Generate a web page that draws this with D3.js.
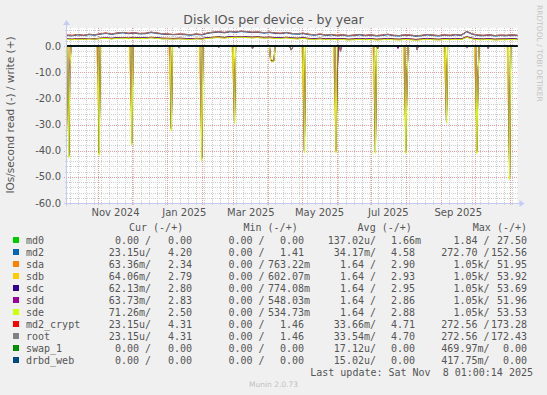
<!DOCTYPE html>
<html><head><meta charset="utf-8">
<script src="https://cdn.jsdelivr.net/npm/d3@7"></script>
<style>
html,body{margin:0;padding:0;background:#f0f0f0;}
svg{display:block;}
</style></head><body>
<svg id="chart" width="547" height="395"></svg>
<script>
// ---------------- DATA ----------------
const startTime = Date.UTC(2024, 9, 4, 1, 0, 14);
const endTime = Date.UTC(2025, 10, 8, 1, 0, 14);

const seriesNames = ["md0","md2","sda","sdb","sdc","sdd","sde","md2_crypt","root","swap_1","drbd_web"];

// write values (IOs/s), one value every 5 days from the start of the graph
const writeDays = [0,5,10,15,20,25,30,35,40,45,50,55,60,65,70,75,80,85,90,95,100,105,110,115,120,125,130,135,140,145,150,155,160,165,170,175,180,185,190,195,200,205,210,215,220,225,230,235,240,245,250,255,260,265,270,275,280,285,290,295,300,305,310,315,320,325,330,335,340,345,350,355,360,365,370,375,380,385,390,395,400];

const md0Write = [0,0,0,0,0,0,0,0,0,0,0,0,0,0,0,0,0,0,0,0,0,0,0,0,0,0,0,0,0,0,0,0,0,0,0,0,0,0,0,0,0,0,0,0,0,0,0,0,0,0,0,0,0,0,0,0,0,0,0,0,0,0,0,0,0,0,0,0,0,0,0,0,0,0,0,0,0,0,0,0,0];
const md2Write = [4.0,3.9,4.2,4.0,4.3,4.1, 4.5,4.8,4.4,4.8,5.0,4.7, 4.9,4.6,4.7,5.1,4.8,4.5,4.4, 4.3,4.4,4.3,4.1,4.4,4.2, 4.8,5.1,5.3,5.0,5.4,5.2,5.5,5.3,5.1,5.2, 4.9,5.1,4.8,4.7,5.0,4.6,4.5,4.7, 4.3,4.1,4.4,4.0,4.2,3.9,4.1,3.8,4.0,4.2, 3.9,4.1,3.8,4.0,4.3,3.9,3.8,4.1,4.0,3.7,3.9,4.2,4.0,3.8, 4.1,3.9,4.2,4.0,5.4,4.4,4.0, 3.9,4.1,3.8,4.0,3.9,4.1,3.9];
const sdaWrite = [2.7,2.5,2.9,2.6,2.9,2.7, 3.0,3.1,2.8,3.2,3.2,3.1, 3.3,3.0,3.2,3.3,3.0,2.9,3.0, 2.8,3.0,2.8,2.8,2.9,2.7, 3.2,3.3,3.5,3.2,3.5,3.3,3.6,3.5,3.3,3.4, 3.2,3.4,3.1,3.0,3.3,3.1,2.9,3.0, 2.8,2.8,2.9,2.7,2.8,2.6,2.8,2.5,2.7,2.8, 2.6,2.8,2.5,2.7,2.8,2.6,2.6,2.7,2.7,2.5,2.6,2.9,2.6,2.5, 2.8,2.6,2.8,2.7,3.6,2.9,2.7, 2.6,2.8,2.5,2.7,2.6,2.7,2.6];
const sdbWrite = [2.6,2.6,2.8,2.7,2.8,2.8, 2.9,3.2,2.9,3.1,3.3,3.0, 3.2,3.1,3.1,3.4,3.1,3.0,2.9, 2.9,2.9,2.9,2.7,3.0,2.8, 3.1,3.4,3.4,3.3,3.5,3.5,3.6,3.4,3.4,3.5, 3.3,3.3,3.2,3.1,3.4,3.0,3.0,3.1, 2.9,2.7,3.0,2.6,2.9,2.7,2.7,2.6,2.6,2.9, 2.7,2.7,2.6,2.6,2.9,2.7,2.5,2.8,2.6,2.5,2.7,2.8,2.7,2.6, 2.7,2.7,2.9,2.6,3.4,3.0,2.6, 2.7,2.7,2.6,2.6,2.7,2.8,2.6];
const sdcWrite = [2.7,2.6,2.8,2.7,2.9,2.8, 3.0,3.1,3.0,3.2,3.2,3.0, 3.3,3.1,3.2,3.3,3.2,3.0,2.9, 2.9,3.0,2.9,2.8,2.9,2.9, 3.2,3.3,3.5,3.3,3.6,3.4,3.6,3.5,3.4,3.5, 3.3,3.4,3.2,3.2,3.3,3.1,3.0,3.2, 2.9,2.8,3.0,2.7,2.9,2.7,2.8,2.6,2.7,2.9, 2.7,2.8,2.6,2.7,2.9,2.7,2.6,2.8,2.7,2.5,2.7,2.9,2.7,2.6, 2.8,2.7,2.9,2.7,3.5,3.0,2.7, 2.7,2.8,2.6,2.7,2.7,2.8,2.7];
const sddWrite = [2.6,2.5,2.7,2.6,2.8,2.6, 2.9,3.0,2.8,3.0,3.1,2.9, 3.1,2.9,3.0,3.2,3.0,2.8,2.8, 2.7,2.8,2.7,2.6,2.8,2.7, 3.0,3.2,3.3,3.1,3.4,3.3,3.5,3.3,3.2,3.3, 3.1,3.2,3.0,3.0,3.2,2.9,2.8,3.0, 2.7,2.6,2.8,2.5,2.7,2.5,2.6,2.4,2.5,2.7, 2.5,2.6,2.4,2.5,2.7,2.5,2.4,2.6,2.5,2.3,2.5,2.7,2.5,2.4, 2.6,2.5,2.7,2.5,3.4,2.8,2.5, 2.5,2.6,2.4,2.5,2.5,2.6,2.5];
const sdeWrite = [2.5,2.4,2.6,2.5,2.7,2.6, 2.8,2.9,2.7,2.9,3.0,2.8, 3.0,2.8,2.9,3.1,2.9,2.7,2.7, 2.6,2.7,2.6,2.5,2.7,2.6, 2.9,3.1,3.2,3.0,3.3,3.2,3.4,3.2,3.1,3.2, 3.0,3.1,2.9,2.9,3.1,2.8,2.7,2.9, 2.6,2.5,2.7,2.4,2.6,2.4,2.5,2.3,2.4,2.6, 2.4,2.5,2.3,2.4,2.6,2.4,2.3,2.5,2.4,2.2,2.4,2.6,2.4,2.3, 2.5,2.4,2.6,2.4,3.3,2.7,2.4, 2.4,2.5,2.3,2.4,2.4,2.5,2.4];
const md2cryptWrite = [4.2,4.1,4.4,4.1,4.5,4.3, 4.7,5.0,4.6,5.0,5.2,4.9, 5.1,4.8,4.9,5.3,5.0,4.7,4.6, 4.4,4.6,4.5,4.3,4.6,4.4, 5.0,5.3,5.5,5.2,5.6,5.4,5.7,5.5,5.3,5.4, 5.1,5.3,5.0,4.9,5.2,4.8,4.7,4.9, 4.5,4.3,4.6,4.2,4.4,4.1,4.3,4.0,4.2,4.4, 4.1,4.3,4.0,4.2,4.5,4.1,4.0,4.3,4.2,3.9,4.1,4.4,4.2,4.0, 4.3,4.1,4.4,4.2,5.6,4.6,4.2, 4.1,4.3,4.0,4.2,4.1,4.3,4.1];
const rootWrite = [4.2,4.0,4.4,4.1,4.5,4.3, 4.7,4.9,4.6,5.0,5.2,4.9, 5.1,4.8,4.9,5.3,5.0,4.7,4.6, 4.4,4.6,4.5,4.3,4.6,4.4, 5.0,5.3,5.5,5.2,5.6,5.4,5.7,5.5,5.3,5.4, 5.1,5.3,5.0,4.9,5.2,4.8,4.7,4.9, 4.5,4.3,4.6,4.2,4.4,4.1,4.3,4.0,4.2,4.4, 4.1,4.3,4.0,4.2,4.5,4.1,4.0,4.3,4.2,3.9,4.1,4.4,4.2,4.0, 4.3,4.1,4.4,4.2,5.6,4.6,4.2, 4.1,4.3,4.0,4.2,4.1,4.3,4.1];
const swap1Write = [0,0,0,0,0,0,0,0,0,0,0,0,0,0,0,0,0,0,0,0,0,0,0,0,0,0,0,0,0,0,0,0,0,0,0,0,0,0,0,0,0,0,0,0,0,0,0,0,0,0,0,0,0,0,0,0,0,0,0,0,0,0,0,0,0,0,0,0,0,0,0,0,0,0,0,0,0,0,0,0,0];
const drbdWebWrite = [0,0,0,0,0,0,0,0,0,0,0,0,0,0,0,0,0,0,0,0,0,0,0,0,0,0,0,0,0,0,0,0,0,0,0,0,0,0,0,0,0,0,0,0,0,0,0,0,0,0,0,0,0,0,0,0,0,0,0,0,0,0,0,0,0,0,0,0,0,0,0,0,0,0,0,0,0,0,0,0,0];

// read values (IOs/s): [day from start, value]; every other day reads 0
const md0Read = [];
const md2Read = [[100,0.7],[135,0.5],[165,0.9],[199,1.4],[200,1.1],[243,1.9],[276,0.9],[311,1.4],[355,0.7],[374,0.9]];
const sdaRead = [[1,18],[2,39],[28,17],[29,38],[57,16],[58,35],[92,14],[93,30],[119,19],[120,41],[148,13],[149,27],[181,4.8],[182,5.4],[183,5.5],[184,5.2],[210,18],[211,38],[238,19],[239,38],[240,13],[273,19],[274,38],[300,18],[301,38],[302,12],[336,13],[337,27],[363,19],[364,38],[365,12],[392,24],[393,47]];
const sdbRead = [[1,20],[2,40],[28,18],[29,39],[57,17],[58,36],[92,15],[93,31],[119,20],[120,42],[148,14],[149,28],[181,5],[182,5.6],[183,5.7],[184,5.4],[210,19],[211,39],[238,20],[239,39],[240,12],[273,20],[274,39],[300,19],[301,39],[302,12],[336,14],[337,28],[363,20],[364,39],[365,11],[392,25],[393,48]];
const sdcRead = [[2,41.5],[3,9],[29,40.5],[58,36.8],[93,31.5],[120,42.5],[149,28.5],[181,5.3],[182,5.8],[183,5.8],[184,5.6],[211,39.8],[239,39.8],[240,12],[274,40],[301,40],[302,12],[337,28.5],[364,40],[365,11],[393,49.5]];
const sddRead = [[2,42],[3,9.5],[29,41],[58,37.2],[93,31.8],[120,43],[149,29],[181,5.4],[182,5.9],[183,5.9],[184,5.7],[211,40.2],[239,40.2],[240,12.5],[274,40.4],[294,1],[301,40.4],[302,12.5],[337,29],[364,40.4],[365,11.5],[393,50]];
const sdeRead = [[2,42.7],[3,10],[29,41.7],[58,37.8],[93,32.4],[120,43.8],[149,29.5],[181,5.5],[182,6],[183,6],[184,5.8],[211,40.8],[239,40.8],[274,41],[301,41],[302,13],[337,29.5],[364,41],[365,12],[393,51]];
const md2cryptRead = [[100,0.8],[135,0.6],[165,1.0],[199,1.5],[200,1.2],[243,2.0],[276,1.0],[311,1.5],[355,0.8],[374,1.0]];
const rootRead = [[100,0.8],[135,0.6],[165,1.0],[199,1.5],[200,1.2],[243,2.0],[276,1.0],[311,1.5],[355,0.8],[374,1.0]];
const swap1Read = [];
const drbdWebRead = [];

// legend statistics (read / write)
const curRead  = ["0.00","23.15u","63.36m","64.06m","62.13m","63.73m","71.26m","23.15u","23.15u","0.00","0.00"];
const curWrite = ["0.00","4.20","2.34","2.79","2.80","2.83","2.50","4.31","4.31","0.00","0.00"];
const minRead  = ["0.00","0.00","0.00","0.00","0.00","0.00","0.00","0.00","0.00","0.00","0.00"];
const minWrite = ["0.00","1.41","763.22m","602.07m","774.08m","548.03m","534.73m","1.46","1.46","0.00","0.00"];
const avgRead  = ["137.02u","34.17m","1.64","1.64","1.64","1.64","1.64","33.66m","33.54m","17.12u","15.02u"];
const avgWrite = ["1.66m","4.58","2.90","2.93","2.95","2.86","2.88","4.71","4.70","0.00","0.00"];
const maxRead  = ["1.84","272.70","1.05k","1.05k","1.05k","1.05k","1.05k","272.56","272.56","469.97m","417.75m"];
const maxWrite = ["27.50","152.56","51.95","53.92","53.69","51.96","53.53","173.28","172.43","0.00","0.00"];

const yTickValues = [0,-10,-20,-30,-40,-50,-60];
const yTickLabels = ["0.0","-10.0","-20.0","-30.0","-40.0","-50.0","-60.0"];
const xTickLabels = ["Nov 2024","Jan 2025","Mar 2025","May 2025","Jul 2025","Sep 2025"];
const xTickDates = [Date.UTC(2024,10,1),Date.UTC(2025,0,1),Date.UTC(2025,2,1),Date.UTC(2025,4,1),Date.UTC(2025,6,1),Date.UTC(2025,8,1)];
const legendHeaders = ["Cur (-/+)","Min (-/+)","Avg (-/+)","Max (-/+)"];

// ---------------- STYLE ----------------
const seriesColors = ["#00CC00","#0066B3","#FF8000","#FFCC00","#330099","#990099","#CCFF00","#FF0000","#808080","#008F00","#00487D"];
const writeData = [md0Write,md2Write,sdaWrite,sdbWrite,sdcWrite,sddWrite,sdeWrite,md2cryptWrite,rootWrite,swap1Write,drbdWebWrite];
const readData = [md0Read,md2Read,sdaRead,sdbRead,sdcRead,sddRead,sdeRead,md2cryptRead,rootRead,swap1Read,drbdWebRead];

const svg = d3.select("#chart");
const W = 547, H = 395;
const plotLeft = 66.5, plotRight = 517.5, plotTop = 28, plotBottom = 203;
const DAY = 86400000;
const x = d3.scaleUtc().domain([new Date(startTime), new Date(endTime)]).range([plotLeft, plotRight]);
const y = d3.scaleLinear().domain([-60, 6.88]).range([plotBottom, plotTop]);
const dayX = d => x(new Date(startTime + d * DAY));

const FONT = "'DejaVu Sans', sans-serif";
const MONO = "'DejaVu Sans Mono', monospace";
const textCol = "#555555";

svg.append("rect").attr("width", W).attr("height", H).attr("fill", "#f0f0f0");
svg.append("rect").attr("x", plotLeft).attr("y", plotTop).attr("width", plotRight - plotLeft).attr("height", plotBottom - plotTop).attr("fill", "#ffffff");

// grid
const grid = svg.append("g").attr("shape-rendering", "crispEdges");
const minorCol = "#d0d0d0", majorCol = "#eba0a0";
d3.range(-60, 6.88, 2).forEach(v => {
  if (v % 10 === 0) return;
  grid.append("line").attr("x1", plotLeft - 2).attr("x2", plotRight).attr("y1", Math.round(y(v)) + 0.5).attr("y2", Math.round(y(v)) + 0.5)
    .attr("stroke", minorCol).attr("stroke-dasharray", "1,1");
});
d3.utcMonday.range(new Date(startTime), new Date(endTime)).forEach(d => {
  const xx = Math.round(x(d)) + 0.5;
  grid.append("line").attr("x1", xx).attr("x2", xx).attr("y1", plotTop).attr("y2", plotBottom + 2)
    .attr("stroke", minorCol).attr("stroke-dasharray", "1,1");
});
d3.utcMonth.range(new Date(startTime), new Date(endTime)).forEach(d => {
  const xx = Math.round(x(d)) + 0.5;
  grid.append("line").attr("x1", xx).attr("x2", xx).attr("y1", plotTop).attr("y2", plotBottom + 3)
    .attr("stroke", majorCol).attr("stroke-dasharray", "1,1");
});
yTickValues.forEach(v => {
  const yy = Math.round(y(v)) + 0.5;
  grid.append("line").attr("x1", plotLeft - 3).attr("x2", plotRight).attr("y1", yy).attr("y2", yy)
    .attr("stroke", majorCol).attr("stroke-dasharray", "1,1");
});

// series
const lineGen = d3.line().x(d => dayX(d[0])).y(d => y(d[1]));
const allDays = d3.range(0, 401);
seriesNames.forEach((name, i) => {
  const rmap = new Map(readData[i]);
  const readPts = allDays.map(d => [d, -(rmap.get(d) || 0)]);
  svg.append("path").attr("d", lineGen(readPts)).attr("fill", "none").attr("stroke", seriesColors[i]).attr("stroke-width", 1);
  const wPts = writeDays.map((d, k) => [d, writeData[i][k]]);
  svg.append("path").attr("d", lineGen(wPts)).attr("fill", "none").attr("stroke", seriesColors[i]).attr("stroke-width", 1);
});

// zero rule
svg.append("line").attr("x1", plotLeft).attr("x2", plotRight).attr("y1", y(0)).attr("y2", y(0))
  .attr("stroke", "#000").attr("stroke-width", 1.6);

// axes
const axisCol = "#c4ccf4";
svg.append("line").attr("x1", plotLeft - 3).attr("x2", plotRight + 2).attr("y1", plotBottom + 0.5).attr("y2", plotBottom + 0.5).attr("stroke", axisCol).attr("shape-rendering","crispEdges");
svg.append("line").attr("x1", plotLeft).attr("x2", plotLeft).attr("y1", plotBottom + 3).attr("y2", plotTop - 3).attr("stroke", axisCol).attr("shape-rendering","crispEdges");
svg.append("path").attr("d", `M${plotRight + 2},${plotBottom - 3}L${plotRight + 7},${plotBottom + 0.5}L${plotRight + 2},${plotBottom + 4}Z`).attr("fill", axisCol);
svg.append("path").attr("d", `M${plotLeft - 3.5},${plotTop - 3}L${plotLeft},${plotTop - 8}L${plotLeft + 3.5},${plotTop - 3}Z`).attr("fill", axisCol);

yTickValues.forEach((v, k) => {
  svg.append("text").attr("x", 61).attr("y", y(v) + 3.6).attr("text-anchor", "end")
    .attr("font-family", FONT).attr("font-size", 10).attr("fill", textCol).text(yTickLabels[k]);
});
xTickDates.forEach((t, k) => {
  svg.append("text").attr("x", x(new Date(t + 15.5 * DAY))).attr("y", 216).attr("text-anchor", "middle")
    .attr("font-family", FONT).attr("font-size", 10).attr("fill", textCol).text(xTickLabels[k]);
});

svg.append("text").attr("x", 273.5).attr("y", 23.5).attr("text-anchor", "middle")
  .attr("font-family", FONT).attr("font-size", 12.5).attr("fill", "#555").text("Disk IOs per device - by year");
svg.append("text").attr("transform", "translate(10,115) rotate(-90)").attr("text-anchor", "middle").attr("dominant-baseline", "central")
  .attr("font-family", FONT).attr("font-size", 10.5).attr("fill", textCol).text("IOs/second read (-) / write (+)");
svg.append("text").attr("transform", "translate(539,5) rotate(90)").attr("text-anchor", "start").attr("dominant-baseline", "central")
  .attr("font-family", FONT).attr("font-size", 7.5).attr("fill", "#c4c4c4").text("RRDTOOL / TOBI OETIKER");

// legend
const lg = svg.append("g").attr("font-family", MONO).attr("font-size", 10).attr("fill", textCol);
const headerX = [129, 243.5, 357.6, 472.8];
legendHeaders.forEach((h, k) => {
  lg.append("text").attr("x", headerX[k]).attr("y", 231).attr("xml:space", "preserve").style("white-space", "pre").text(h);
});
const readEnd = [151, 264.5, 376, 489.5];
const writeEnd = [192, 304, 415, 527];
const cols = [[curRead, curWrite],[minRead, minWrite],[avgRead, avgWrite],[maxRead, maxWrite]];
const splitUnit = s => /[a-zA-Z]$/.test(s) ? [s.slice(0, -1), s.slice(-1)] : [s, " "];
seriesNames.forEach((name, i) => {
  const cy = 240 + i * 12;
  svg.append("rect").attr("x", 13).attr("y", cy - 3).attr("width", 6).attr("height", 6).attr("fill", seriesColors[i]);
  lg.append("text").attr("x", 26).attr("y", cy + 3.5).text(name);
  cols.forEach(([rArr, wArr], k) => {
    const [rn, ru] = splitUnit(rArr[i]);
    lg.append("text").attr("x", readEnd[k]).attr("y", cy + 3.5).attr("text-anchor", "end")
      .attr("xml:space", "preserve").style("white-space", "pre").text(rn + ru + "/");
    const [wn, wu] = splitUnit(wArr[i]);
    lg.append("text").attr("x", writeEnd[k]).attr("y", cy + 3.5).attr("text-anchor", "end").text(wn);
    if (wu.trim()) lg.append("text").attr("x", writeEnd[k]).attr("y", cy + 3.5).text(wu);
  });
});
lg.append("text").attr("x", 533).attr("y", 375.5).attr("text-anchor", "end").attr("xml:space", "preserve").style("white-space", "pre")
  .text("Last update: Sat Nov  8 01:00:14 2025");
svg.append("text").attr("x", 273.5).attr("y", 387).attr("text-anchor", "middle").attr("font-family", FONT).attr("font-size", 7.5)
  .attr("fill", "#c0c0c0").text("Munin 2.0.73");
</script>
</body></html>
